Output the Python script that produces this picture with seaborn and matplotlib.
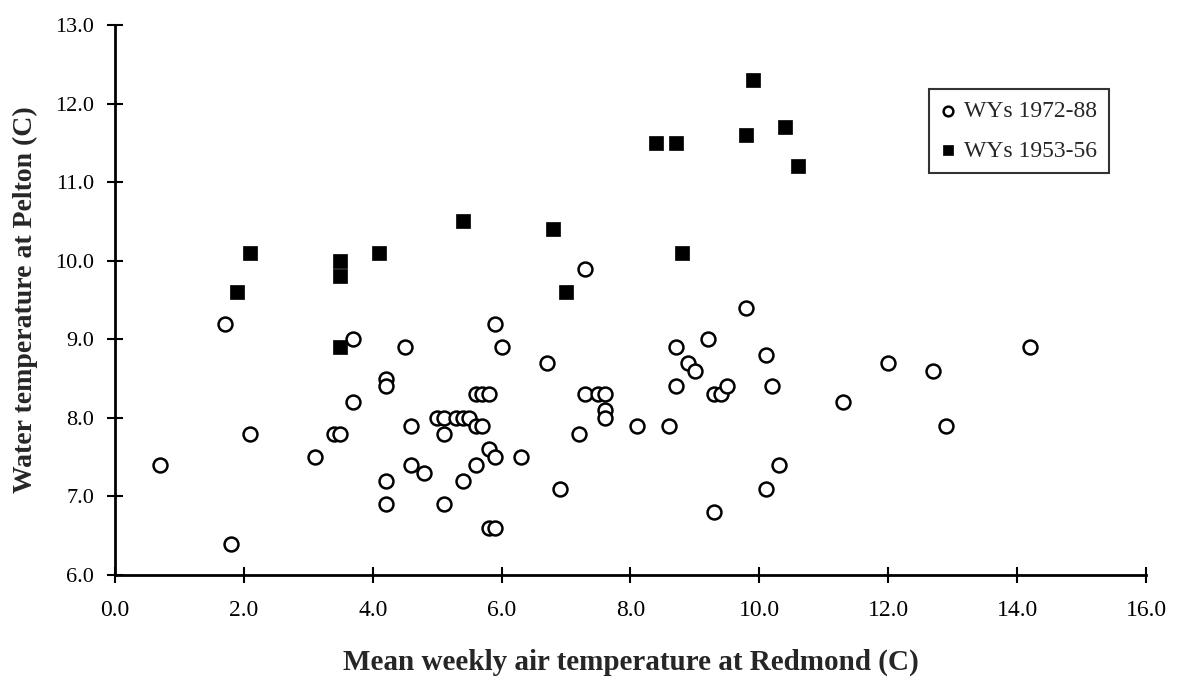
import matplotlib
matplotlib.use("Agg")
import matplotlib.pyplot as plt
import pandas as pd
import seaborn as sns

# Weekly means, water years 1972-88 (open circles)
air_1972_88 = [0.7, 1.7, 1.8, 2.1, 3.1, 3.4, 3.5, 3.7, 3.7, 4.2, 4.2, 4.2, 4.2,
               4.5, 4.6, 4.6, 4.8, 5.0, 5.1, 5.1, 5.1, 5.3, 5.4, 5.5, 5.4, 5.6,
               5.6, 5.6, 5.7, 5.7, 5.8, 5.8, 5.8, 5.9, 5.9, 5.9, 6.0, 6.3, 6.7,
               6.9, 7.2, 7.3, 7.3, 7.5, 7.6, 7.6, 7.6, 8.1, 8.6, 8.7, 8.7, 8.9,
               9.0, 9.2, 9.3, 9.3, 9.4, 9.5, 9.8, 10.1, 10.1, 10.2, 10.3, 11.3,
               12.0, 12.7, 12.9, 14.2]
water_1972_88 = [7.4, 9.2, 6.4, 7.8, 7.5, 7.8, 7.8, 9.0, 8.2, 8.5, 8.4, 7.2, 6.9,
                 8.9, 7.9, 7.4, 7.3, 8.0, 8.0, 7.8, 6.9, 8.0, 8.0, 8.0, 7.2, 8.3,
                 7.9, 7.4, 8.3, 7.9, 8.3, 7.6, 6.6, 6.6, 7.5, 9.2, 8.9, 7.5, 8.7,
                 7.1, 7.8, 9.9, 8.3, 8.3, 8.3, 8.1, 8.0, 7.9, 7.9, 8.9, 8.4, 8.7,
                 8.6, 9.0, 8.3, 6.8, 8.3, 8.4, 9.4, 8.8, 7.1, 8.4, 7.4, 8.2,
                 8.7, 8.6, 7.9, 8.9]

# Weekly means, water years 1953-56 (filled squares)
air_1953_56 = [1.9, 2.1, 3.5, 3.5, 3.5, 4.1, 5.4, 6.8, 7.0, 8.4, 8.7, 8.8,
               9.8, 9.9, 10.4, 10.6]
water_1953_56 = [9.6, 10.1, 10.0, 9.8, 8.9, 10.1, 10.5, 10.4, 9.6, 11.5, 11.5,
                 10.1, 11.6, 12.3, 11.7, 11.2]

series_labels = ["WYs 1972-88", "WYs 1953-56"]
x_ticks = [0.0, 2.0, 4.0, 6.0, 8.0, 10.0, 12.0, 14.0, 16.0]
y_ticks = [6.0, 7.0, 8.0, 9.0, 10.0, 11.0, 12.0, 13.0]

recent = pd.DataFrame({"air": air_1972_88, "water": water_1972_88})
early = pd.DataFrame({"air": air_1953_56, "water": water_1953_56})

sns.set_style("ticks")
plt.rcParams["font.family"] = ["Liberation Serif", "DejaVu Serif"]

fig = plt.figure(figsize=(11.79, 6.77), dpi=100)
ax = fig.add_axes([0.0975, 0.1507, 0.8745, 0.8123])

sns.scatterplot(data=recent, x="air", y="water", ax=ax, marker="o", s=100,
                facecolor="white", edgecolor="black", linewidth=1.8,
                label=series_labels[0], zorder=3)
sns.scatterplot(data=early, x="air", y="water", ax=ax, marker="s", s=100,
                color="black", edgecolor="black", linewidth=0.5,
                label=series_labels[1], zorder=3)

ax.set_xlim(0, 16)
ax.set_ylim(6, 13)
ax.set_xticks(x_ticks)
ax.set_yticks(y_ticks)
ax.set_xticklabels([f"{v:.1f}" for v in x_ticks], fontsize=17)
ax.set_yticklabels([f"{v:.1f}" for v in y_ticks], fontsize=16)
ax.tick_params(direction="inout", length=12, width=1.5, colors="black")
ax.tick_params(axis="x", pad=12)
ax.tick_params(axis="y", pad=9)

for side in ("top", "right"):
    ax.spines[side].set_visible(False)
for side in ("left", "bottom"):
    ax.spines[side].set_linewidth(2.0)
    ax.spines[side].set_color("black")

ax.set_xlabel("Mean weekly air temperature at Redmond (C)", fontsize=21,
              fontweight="bold", labelpad=20)
ax.set_ylabel("Water temperature at Pelton (C)", fontsize=20,
              fontweight="bold", labelpad=12)

leg = ax.legend(loc="upper left", bbox_to_anchor=(0.7895, 0.8836),
                borderaxespad=0, frameon=True, fancybox=False, fontsize=17,
                markerscale=0.7, handlelength=0.6, handletextpad=0.4,
                borderpad=0.5, labelspacing=0.75)
leg.get_frame().set_edgecolor("black")
leg.get_frame().set_linewidth(1.5)

fig.savefig("out.png", dpi=100, facecolor="white")
